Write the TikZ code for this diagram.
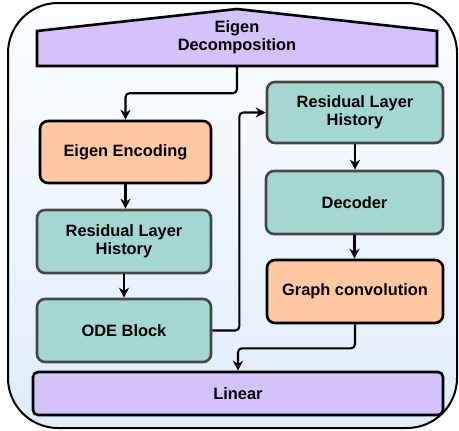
\documentclass[tikz,border=0pt]{standalone}
\usepackage{fontspec}
\setmainfont{Liberation Sans}
\usetikzlibrary{positioning,arrows.meta,calc}

\definecolor{lavender}{HTML}{D4C2FB}
\definecolor{peach}{HTML}{FFC8A2}
\definecolor{teal}{HTML}{A4D6D2}
\definecolor{tealline}{HTML}{464646}
\definecolor{bgtop}{HTML}{FCFDFF}
\definecolor{bgbot}{HTML}{DFEDFA}

\begin{document}
\begin{tikzpicture}[
  x=1pt, y=-1pt,
  font=\fontsize{16.4}{17.8}\selectfont\bfseries,
  block/.style={draw,line width=2.6pt,rounded corners=8pt,align=center,inner sep=2pt},
  encbox/.style={block,fill=peach,draw=black},
  resbox/.style={block,fill=teal,draw=tealline},
  linbox/.style={block,fill=lavender,draw=black,rounded corners=5pt},
  arrow/.style={-{Stealth[length=10pt,width=10pt]},line width=2.1pt,rounded corners=4pt},
]
  \useasboundingbox (0,0) rectangle (459,431);

  % Outer frame with a soft vertical fade.
  \draw[line width=2pt,rounded corners=50pt,top color=bgtop,bottom color=bgbot]
    (8,3) rectangle (457,428);

  % Header block, drawn as a pentagon.
  \draw[line width=2.6pt,fill=lavender,line join=miter]
    (37,66) -- (37,31) -- (237,9) -- (437,31) -- (437,66) -- cycle;
  \node[minimum width=400pt,minimum height=57pt,align=center] (eig) at (237,37.5)
    {Eigen\\Decomposition};

  % Left column.
  \node[encbox,minimum width=171pt,minimum height=62pt] (enc) at (125.5,152) {Eigen Encoding};
  \node[resbox,minimum width=174pt,minimum height=63pt] (res1) at (124,241.5) {Residual Layer\\History};
  \node[resbox,minimum width=174pt,minimum height=63pt] (ode) at (124,330.5) {ODE Block};

  % Right column.
  \node[resbox,minimum width=176pt,minimum height=61pt] (res2) at (355,112.5) {Residual Layer\\History};
  \node[resbox,minimum width=177pt,minimum height=63pt] (dec) at (354.5,202.5) {Decoder};
  \node[encbox,minimum width=176pt,minimum height=63pt] (gc) at (355,291.5) {Graph convolution};

  % Output layer.
  \node[linbox,minimum width=410pt,minimum height=43pt] (lin) at (238,393.5) {Linear};

  \draw[arrow] (eig.south) -- ++(0,27) -| (enc.north);
  \draw[arrow] (enc.south) -- (enc.south |- res1.north);
  \draw[arrow] (res1.south) -- (res1.south |- ode.north);
  \draw[arrow] (ode.east) -- ++(27,0) |- (res2.west);
  \draw[arrow] (res2.south) -- (res2.south |- dec.north);
  \draw[arrow] (dec.south) -- (dec.south |- gc.north);
  \draw[arrow] (gc.south) -- ++(0,24) -| (lin.north);

\end{tikzpicture}
\end{document}
